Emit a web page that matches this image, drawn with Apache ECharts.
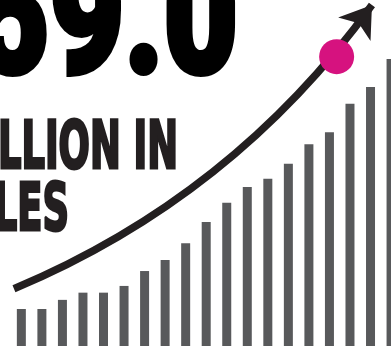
<!DOCTYPE html>
<html>
<head>
<meta charset="utf-8">
<script src="https://cdn.jsdelivr.net/npm/echarts@6/dist/echarts.min.js"></script>
<style>
  html, body { margin: 0; padding: 0; background: #ffffff; }
  #chart { width: 391px; height: 346px; }
</style>
</head>
<body>
<div id="chart"></div>
<script>
// Yearly sales (billions), one bar per period (period index 0..18)
const periods = [0, 1, 2, 3, 4, 5, 6, 7, 8, 9, 10, 11, 12, 13, 14, 15, 16, 17, 18];
const salesValues = [7.7, 7.7, 9.6, 11.1, 11.1, 12.5, 15.6, 17.9, 21.4, 25.8,
                     29.8, 33.1, 34.8, 37.9, 42.0, 44.5, 50.4, 53.9, 59.7];

// Growth arrow: start and end point in [period index, value]
const trendStart = [-0.36, 11.9];
const trendEnd = [17.07, 70.95];
// Highlighted current value on the arrow
const highlightPoint = [15.35, 60.2];

// Headline text
const headlineFigure = '$59.0';
const headlineLine1 = 'BILLION IN';
const headlineLine2 = 'SALES';

const barData = periods.map((p, i) => [p, salesValues[i]]);

const chart = echarts.init(document.getElementById('chart'), null, { renderer: 'canvas' });

chart.setOption({
  animation: false,
  backgroundColor: '#ffffff',
  grid: { left: 11.08, right: 0, top: 0, bottom: 0, containLabel: false },
  xAxis: {
    type: 'value',
    min: -0.5,
    max: 17.997,
    show: false,
    splitLine: { show: false }
  },
  yAxis: {
    type: 'value',
    min: 0,
    max: 72,
    show: false,
    splitLine: { show: false }
  },
  series: [
    {
      type: 'bar',
      data: barData,
      barWidth: 9,
      itemStyle: { color: '#58595b' },
      clip: true,
      z: 2
    },
    {
      type: 'lines',
      coordinateSystem: 'cartesian2d',
      data: [{ coords: [trendStart, trendEnd] }],
      symbol: ['none', 'arrow'],
      symbolSize: 30,
      lineStyle: { color: '#231f20', width: 7.5, curveness: -0.14, opacity: 1, cap: 'butt' },
      z: 3
    },
    {
      type: 'scatter',
      data: [highlightPoint],
      symbol: 'circle',
      symbolSize: 35,
      itemStyle: { color: '#d6127f', opacity: 1 },
      z: 4
    }
  ],
  graphic: [
    {
      type: 'text',
      x: 238,
      y: 113,
      scaleX: 0.78,
      style: {
        text: headlineFigure,
        font: '900 165px Roboto',
        fill: '#000000',
        stroke: '#000000',
        lineWidth: 6,
        align: 'right',
        verticalAlign: 'bottom',
        textAlign: 'right',
        textVerticalAlign: 'bottom'
      }
    },
    {
      type: 'text',
      x: 178,
      y: 184,
      scaleX: 0.62,
      style: {
        text: headlineLine1,
        font: 'bold 66px "DejaVu Sans Condensed"',
        fill: '#231f20',
        stroke: '#231f20',
        lineWidth: 3,
        align: 'right',
        verticalAlign: 'bottom',
        textAlign: 'right',
        textVerticalAlign: 'bottom'
      }
    },
    {
      type: 'text',
      x: 69,
      y: 246,
      scaleX: 0.62,
      style: {
        text: headlineLine2,
        font: 'bold 66px "DejaVu Sans Condensed"',
        fill: '#231f20',
        stroke: '#231f20',
        lineWidth: 3,
        align: 'right',
        verticalAlign: 'bottom',
        textAlign: 'right',
        textVerticalAlign: 'bottom'
      }
    }
  ]
});
</script>
</body>
</html>
